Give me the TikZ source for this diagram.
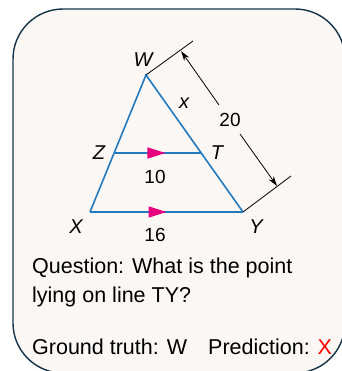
\documentclass[tikz,border=0pt]{standalone}
\usepackage{fontspec}
\setmainfont{Liberation Sans}
\usetikzlibrary{arrows.meta,decorations.markings}
\definecolor{bgc}{RGB}{250,247,244}
\definecolor{framec}{RGB}{22,52,72}
\definecolor{segc}{RGB}{35,122,190}
\definecolor{markc}{RGB}{230,0,126}
\tikzset{
  seg/.style={draw=segc, line width=1.6pt},
  dim/.style={draw=black, line width=0.8pt},
  lbl/.style={font=\fontsize{20}{22}\selectfont\itshape, inner sep=0pt},
  num/.style={font=\fontsize{19}{21}\selectfont, inner sep=0pt},
  txt/.style={font=\fontsize{21.5}{24}\selectfont, anchor=base west, inner sep=0pt},
  pmark/.style={postaction={decorate, decoration={markings,
     mark=at position #1 with {\arrow[markc]{Triangle[length=18pt,width=11pt]}}}}}
}
\begin{document}
\begin{tikzpicture}[x=1pt,y=-1pt]
\useasboundingbox (0,0) rectangle (341,371);
\draw[fill=bgc, draw=framec, line width=1.4pt, rounded corners=50pt] (13,9) rectangle (345,373);
% points
\coordinate (W) at (146,75);
\coordinate (X) at (90,212);
\coordinate (Y) at (243,212);
\coordinate (Z) at (114.1,153);
\coordinate (T) at (201.2,153);
\coordinate (Wt) at (193,41);
\coordinate (Yt) at (291,176);
\coordinate (A1) at (181,51);
\coordinate (B1) at (219,105);
\coordinate (B2) at (240,134);
\coordinate (A2) at (277,186);
% triangle
\draw[seg, line join=miter] (X) -- (W) -- (Y);
\draw[seg, pmark=0.59] (Z) -- (T);
\draw[seg, pmark=0.5] (X) -- (Y);
% dimension
\draw[dim] (W) -- (Wt);
\draw[dim] (Y) -- (Yt);
\draw[dim, -{Stealth[length=10pt,width=6pt]}] (B1) -- (A1);
\draw[dim, -{Stealth[length=10pt,width=6pt]}] (B2) -- (A2);
% labels
\node[lbl] (lW) at (143,60) {W};
\node[lbl] (lx) at (184,103) {x};
\node[num] (l20) at (230,120) {20};
\node[lbl] (lZ) at (99,153) {Z};
\node[lbl] (lT) at (217,153) {T};
\node[num] (l10) at (155,177) {10};
\node[lbl] (lX) at (76,227) {X};
\node[num] (l16) at (155,235) {16};
\node[lbl] (lY) at (256,227) {Y};
% text
\node[txt] (q1) at (32,273) {Question: What is the point};
\node[txt] (q2) at (32,302) {lying on line TY?};
\node[txt] (g) at (32,354) {Ground truth: W};
\node[txt] (p) at (208,354) {Prediction: \textcolor{red}{X}};
\end{tikzpicture}
\end{document}
